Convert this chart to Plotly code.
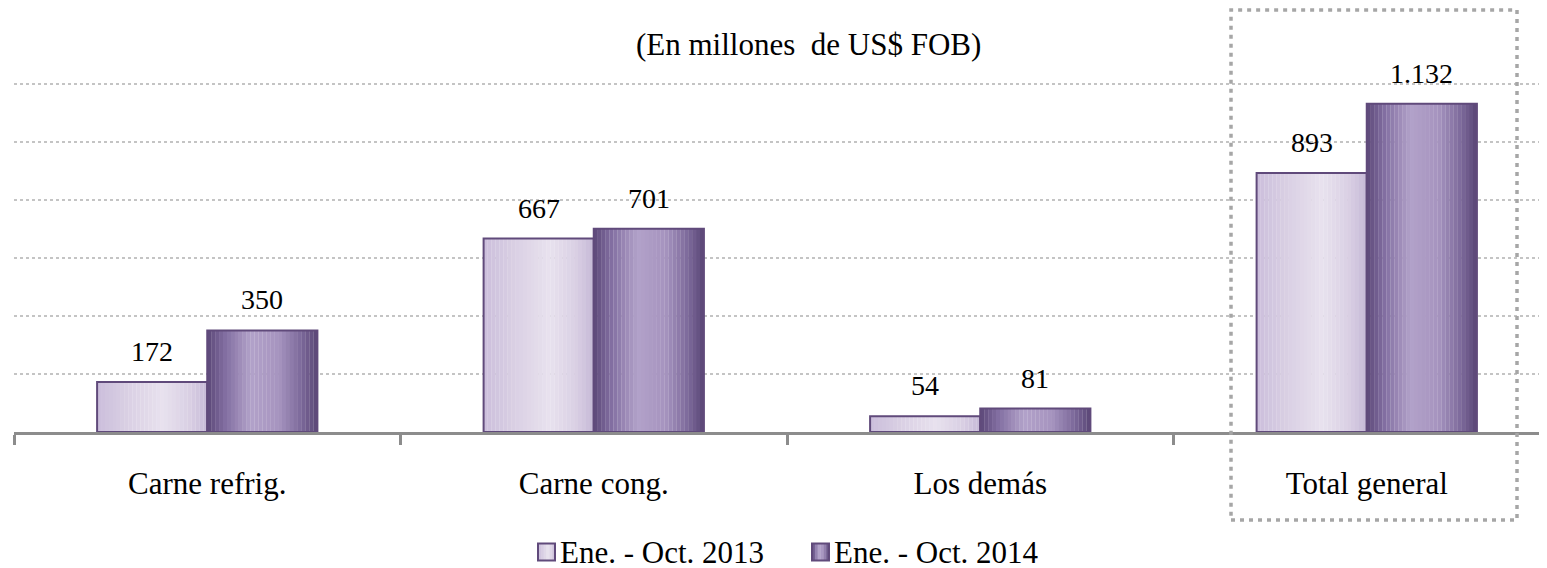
import plotly.graph_objects as go

categories = ["Carne refrig.", "Carne cong.", "Los demás", "Total general"]
series_names = ["Ene. - Oct. 2013", "Ene. - Oct. 2014"]
values_2013 = [172, 667, 54, 893]
values_2014 = [350, 701, 81, 1132]

W = 1547
H = 568
OFF = 8            # page body margin of the browser
PX_PER_UNIT = 0.29
Y_MAX = 1210
L = 14 - OFF       # left edge of plot (figure coords)
BOT = 432 - OFF
TOP = BOT - Y_MAX * PX_PER_UNIT
PLOT_W = W - L
PLOT_H = BOT - TOP
CAT_PX = 386.5
SERIF = "Liberation Serif, Times New Roman, serif"

BAR_W = 0.285
N_STRIPS = 28


def px_x(p):
    return (p - OFF - L) / PLOT_W


def px_y(p):
    return (BOT - (p - OFF)) / PLOT_H


def mix(c1, c2, t):
    a = [int(c1[i:i + 2], 16) for i in (1, 3, 5)]
    b = [int(c2[i:i + 2], 16) for i in (1, 3, 5)]
    return "rgb(%d,%d,%d)" % tuple(round(a[k] + (b[k] - a[k]) * t) for k in range(3))


def profile(stops, u):
    for (u0, c0), (u1, c1) in zip(stops, stops[1:]):
        if u0 <= u <= u1:
            return mix(c0, c1, (u - u0) / (u1 - u0) if u1 > u0 else 0)
    return mix(stops[-1][1], stops[-1][1], 0)


grad_2013 = [(0.0, "#cbbedb"), (0.35, "#ddd4e6"), (0.6, "#e8e2ee"), (0.85, "#d8cee3"), (1.0, "#c6b9d6")]
grad_2014 = [(0.0, "#5c4878"), (0.15, "#806c9f"), (0.4, "#b2a2c9"), (0.65, "#a694bf"), (0.85, "#7d6a9b"), (1.0, "#5a4676")]
border = "#604a7b"

fig = go.Figure()

specs = [
    (series_names[0], values_2013, -BAR_W, grad_2013),
    (series_names[1], values_2014, 0.0, grad_2014),
]

for name, vals, off, grad in specs:
    sw = BAR_W / N_STRIPS
    for i in range(N_STRIPS):
        col = profile(grad, (i + 0.5) / N_STRIPS)
        fig.add_trace(go.Bar(
            x=categories, y=vals, offset=off + i * sw, width=sw * 1.05,
            marker=dict(color=col, line=dict(width=0)),
            showlegend=False, hoverinfo="skip",
        ))
    fig.add_trace(go.Bar(
        x=categories, y=vals, name=name, offset=off, width=BAR_W,
        marker=dict(color="rgba(0,0,0,0)", line=dict(color=border, width=2)),
        showlegend=False, hovertemplate="%{x}: %{y}<extra>" + name + "</extra>",
    ))
    # value labels
    for ci, v in enumerate(vals):
        fig.add_annotation(
            x=ci + off + BAR_W / 2, y=v, xref="x", yref="y",
            text=f"{v:,}".replace(",", "."), showarrow=False,
            yanchor="bottom", xanchor="center", yshift=13,
            font=dict(family=SERIF, size=28, color="#000000"),
        )

x_right = -0.5 + PLOT_W / CAT_PX

fig.update_layout(
    width=W, height=H,
    margin=dict(l=L, r=0, t=TOP, b=H - BOT, autoexpand=False),
    paper_bgcolor="white", plot_bgcolor="white",
    barmode="overlay",
    separators=",.",
    font=dict(family=SERIF, color="#000000"),
    xaxis=dict(
        range=[-0.5, x_right], showgrid=False, automargin=False,
        showline=True, linecolor="#8c8c8c", linewidth=3,
        ticks="outside", tickson="boundaries", ticklen=10, tickwidth=2.5, tickcolor="#8c8c8c",
        tickfont=dict(family=SERIF, size=31, color="#000000"),
        ticklabelstandoff=22,
    ),
    yaxis=dict(
        range=[0, Y_MAX], tick0=0, dtick=200, showticklabels=False, automargin=False,
        showgrid=True, gridcolor="#c4c4c4", gridwidth=1.5, griddash="dot",
        zeroline=False, showline=False,
    ),
    showlegend=False,
)

fig.add_annotation(
    text="(En millones  de US$ FOB)", xref="paper", yref="paper",
    x=px_x(808), y=px_y(45), xanchor="center", yanchor="middle",
    showarrow=False, font=dict(family=SERIF, size=31, color="#000000"),
)

# dotted highlight box around "Total general"
fig.add_shape(
    type="rect", xref="paper", yref="paper",
    x0=px_x(1231), x1=px_x(1517), y0=px_y(520), y1=px_y(10),
    line=dict(color="#a6a6a6", width=3.5, dash="4px,5px"),
    fillcolor="rgba(0,0,0,0)", layer="above",
)

# custom legend (symbol squares + names)
legend_items = [(538, 558, grad_2013), (812, 832, grad_2014)]
SQ = 17
for (sx, tx, grad), name in zip(legend_items, series_names):
    n = 6
    for i in range(n):
        fig.add_shape(
            type="rect", xref="paper", yref="paper",
            x0=px_x(sx + i * SQ / n), x1=px_x(sx + (i + 1) * SQ / n + 0.3),
            y0=px_y(552 + SQ / 2), y1=px_y(552 - SQ / 2),
            line=dict(width=0), fillcolor=profile(grad, (i + 0.5) / n),
        )
    fig.add_shape(
        type="rect", xref="paper", yref="paper",
        x0=px_x(sx), x1=px_x(sx + SQ), y0=px_y(552 + SQ / 2), y1=px_y(552 - SQ / 2),
        line=dict(color=border, width=2), fillcolor="rgba(0,0,0,0)",
    )
    fig.add_annotation(
        text=name, xref="paper", yref="paper",
        x=px_x(tx), y=px_y(552), xanchor="left", yanchor="middle",
        showarrow=False, font=dict(family=SERIF, size=31, color="#000000"),
    )

fig.write_html("out.html")
